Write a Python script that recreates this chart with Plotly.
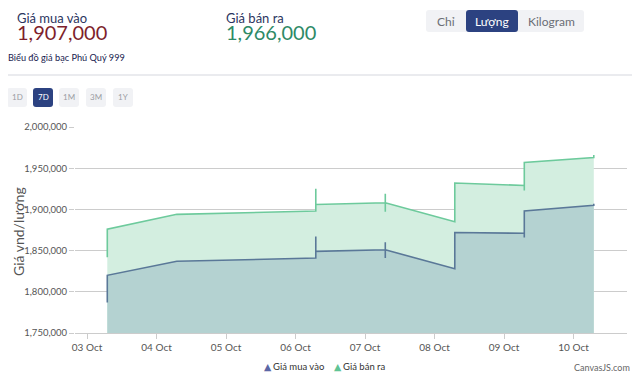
import plotly.graph_objects as go

# ---------------- data ----------------
buy_times = ["2025-10-03 07:00", "2025-10-03 07:00", "2025-10-04 07:00",
             "2025-10-06 07:00", "2025-10-06 07:00", "2025-10-06 07:00",
             "2025-10-07 07:00", "2025-10-07 07:00", "2025-10-07 07:00", "2025-10-07 07:00",
             "2025-10-08 07:00", "2025-10-08 07:00",
             "2025-10-09 07:00", "2025-10-09 07:00", "2025-10-09 07:00",
             "2025-10-10 07:00", "2025-10-10 07:00"]
buy_values = [1787000, 1820000, 1837000,
              1841000, 1867000, 1849000,
              1851000, 1860000, 1841000, 1851000,
              1828000, 1872000,
              1871000, 1866000, 1898000,
              1905000, 1907000]

sell_times = ["2025-10-03 07:00", "2025-10-03 07:00", "2025-10-04 07:00",
              "2025-10-06 07:00", "2025-10-06 07:00", "2025-10-06 07:00",
              "2025-10-07 07:00", "2025-10-07 07:00", "2025-10-07 07:00", "2025-10-07 07:00",
              "2025-10-08 07:00", "2025-10-08 07:00",
              "2025-10-09 07:00", "2025-10-09 07:00", "2025-10-09 07:00",
              "2025-10-10 07:00", "2025-10-10 07:00"]
sell_values = [1842000, 1876000, 1894000,
               1898000, 1925000, 1906000,
               1908000, 1919000, 1897000, 1908000,
               1885000, 1932000,
               1929000, 1923000, 1957000,
               1963000, 1966000]

tick_dates = ["2025-10-03", "2025-10-04", "2025-10-05", "2025-10-06",
              "2025-10-07", "2025-10-08", "2025-10-09", "2025-10-10"]
tick_labels = ["03 Oct", "04 Oct", "05 Oct", "06 Oct", "07 Oct", "08 Oct", "09 Oct", "10 Oct"]
y_ticks = [1750000, 1800000, 1850000, 1900000, 1950000, 2000000]
y_tick_labels = ["1,750,000", "1,800,000", "1,850,000", "1,900,000", "1,950,000", "2,000,000"]

buy_label = "Giá mua vào"
sell_label = "Giá bán ra"
buy_price = "1,907,000"
sell_price = "1,966,000"
title = "Biểu đồ giá bạc Phú Quý 999"
y_title = "Giá vnd/lượng"
range_buttons = ["1D", "7D", "1M", "3M", "1Y"]
unit_buttons = ["Chỉ", "Lượng", "Kilogram"]

# ---------------- layout geometry ----------------
# page body has an 8px margin, so the figure is drawn at (8, 8) in the window
OFF = 8
W, H = 640 - OFF, 376 - OFF
L, R, T, B = 75 - OFF, 13, 127 - OFF, 43
PW, PH = W - L - R, H - T - B

def px(x):
    # x in window pixels -> paper
    return (x - OFF - L) / PW

def py(y):
    return (H - B - (y - OFF)) / PH

def rrect(x0, y0, x1, y1, r):
    a0, a1 = px(x0), px(x1)
    b0, b1 = py(y0), py(y1)
    rx, ry = r / PW, r / PH
    return (f"M {a0+rx},{b0} L {a1-rx},{b0} Q {a1},{b0} {a1},{b0-ry} "
            f"L {a1},{b1+ry} Q {a1},{b1} {a1-rx},{b1} L {a0+rx},{b1} "
            f"Q {a0},{b1} {a0},{b1+ry} L {a0},{b0-ry} Q {a0},{b0} {a0+rx},{b0} Z")

NAVY = "#2c4281"
LIGHT = "#f1f2f5"
FONT = "Lato"

fig = go.Figure()
fig.add_trace(go.Scatter(x=sell_times, y=sell_values, mode="lines", name=sell_label,
                         line=dict(color="#6dca9c", width=1.6), fill="tozeroy",
                         fillcolor="#d3eee0", showlegend=False))
fig.add_trace(go.Scatter(x=buy_times, y=buy_values, mode="lines", name=buy_label,
                         line=dict(color="#5a7898", width=1.6), fill="tozeroy",
                         fillcolor="#b4d2d1", showlegend=False))

shapes = []
ann = []

# header texts (label + price in one block)
def price_block(label, price, color):
    return f"{label}<br><span style='font-size:20px;color:{color}'>{price}</span>"

ann.append(dict(x=px(15), y=py(8), yanchor="top", align="left",
                text=price_block(buy_label, buy_price, "#7e1f2c"),
                font=dict(size=13, color="#2b3560", family=FONT)))
ann.append(dict(x=px(224), y=py(8), yanchor="top", align="left",
                text=price_block(sell_label, sell_price, "#2e8a66"),
                font=dict(size=13, color="#2b3560", family=FONT)))
ann.append(dict(x=px(6), y=py(58), text=title, font=dict(size=9.2, color="#18224f", family=FONT)))

# separator
shapes.append(dict(type="line", xref="paper", yref="paper", x0=px(7), x1=px(633), y0=py(75), y1=py(75),
                   line=dict(color="#d5d7de", width=1)))

# range buttons
bx = [7, 33, 59, 86, 113]
for lab, x0 in zip(range_buttons, bx):
    sel = lab == "7D"
    shapes.append(dict(type="path", xref="paper", yref="paper", path=rrect(x0, 88, x0 + 20, 107, 3),
                       fillcolor=NAVY if sel else LIGHT, line=dict(width=0)))
    ann.append(dict(x=px(x0 + 10), y=py(97.5), text=lab, xanchor="center",
                    font=dict(size=8, color="#ffffff" if sel else "#9a9ca3", family=FONT)))

# unit buttons
ux = [(426, 466), (466, 518), (518, 584)]
shapes.append(dict(type="path", xref="paper", yref="paper", path=rrect(426, 10, 584, 32, 3),
                   fillcolor=LIGHT, line=dict(width=0)))
for lab, (x0, x1) in zip(unit_buttons, ux):
    sel = lab == "Lượng"
    if sel:
        shapes.append(dict(type="path", xref="paper", yref="paper", path=rrect(x0, 10, x1, 32, 3),
                           fillcolor=NAVY, line=dict(width=0)))
    ann.append(dict(x=px((x0 + x1) / 2), y=py(21), text=lab, xanchor="center",
                    font=dict(size=12, color="#ffffff" if sel else "#6b6e76", family=FONT)))

# y axis title
ann.append(dict(x=px(18), y=py(232), text=y_title, xanchor="center", textangle=-90,
                font=dict(size=14, color="#555555", family=FONT)))

# legend
ann.append(dict(x=px(262), y=py(366), text="▲", font=dict(size=9.5, color="#5b67a6", family="DejaVu Sans")))
ann.append(dict(x=px(271), y=py(366), text=buy_label, font=dict(size=9.5, color="#333333", family=FONT)))
ann.append(dict(x=px(332), y=py(366), text="▲", font=dict(size=9.5, color="#5fc495", family="DejaVu Sans")))
ann.append(dict(x=px(341), y=py(366), text=sell_label, font=dict(size=9.5, color="#333333", family=FONT)))
ann.append(dict(x=px(632), y=py(367), text="CanvasJS.com", xanchor="right",
                font=dict(size=9, color="#666666", family=FONT)))

for a in ann:
    a.setdefault("xanchor", "left")
    a.setdefault("yanchor", "middle")
    a.update(xref="paper", yref="paper", showarrow=False)

fig.update_layout(
    width=W, height=H,
    margin=dict(l=L, r=R, t=T, b=B, pad=0, autoexpand=False),
    paper_bgcolor="white", plot_bgcolor="white",
    font=dict(family=FONT, color="#555555"),
    shapes=shapes, annotations=ann,
    xaxis=dict(type="date", range=["2025-10-02 19:51", "2025-10-10 18:28"], automargin=False,
               tickvals=tick_dates, ticktext=tick_labels, showgrid=False,
               showline=True, linecolor="#cccccc", linewidth=1,
               ticks="outside", ticklen=5, tickcolor="#cccccc",
               tickfont=dict(size=10, color="#555555", family=FONT), zeroline=False),
    yaxis=dict(range=[1750000, 2000000], tickvals=y_ticks, ticktext=y_tick_labels, automargin=False,
               showgrid=True, gridcolor="#cccccc", gridwidth=1,
               ticks="outside", ticklen=5, tickcolor="#cccccc",
               tickfont=dict(size=9.5, color="#555555", family=FONT), zeroline=False),
)

fig.write_html("out.html")
